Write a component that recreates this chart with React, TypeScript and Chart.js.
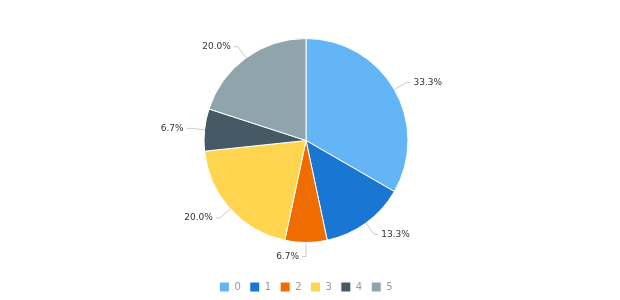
import React, { useEffect, useRef } from "react";
import { Chart, registerables } from "chart.js";

Chart.register(...registerables);

const categories = ["0", "1", "2", "3", "4", "5"];
const values = [5, 2, 1, 3, 1, 3];
const colors = ["#64B5F6", "#1976D2", "#EF6C00", "#FFD54F", "#455A64", "#90A4AE"];

const labelPlugin = {
  id: "pieLabels",
  afterDatasetsDraw(chart: any) {
    const ctx = chart.ctx;
    const meta = chart.getDatasetMeta(0);
    const data = chart.data.datasets[0].data as number[];
    const total = data.reduce((a, b) => a + b, 0);
    ctx.save();
    ctx.font = "9px 'DejaVu Sans'";
    ctx.textBaseline = "middle";
    meta.data.forEach((arc: any, i: number) => {
      const { x, y, startAngle, endAngle, outerRadius } = arc.getProps(
        ["x", "y", "startAngle", "endAngle", "outerRadius"],
        true
      );
      const mid = (startAngle + endAngle) / 2;
      const c = Math.cos(mid);
      const s = Math.sin(mid);
      const x1 = x + outerRadius * c;
      const y1 = y + outerRadius * s;
      const x2 = x + (outerRadius + 14) * c;
      const y2 = y + (outerRadius + 14) * s;
      const right = c > 0.001;
      const x3 = x2 + (right ? 4 : -4);
      ctx.strokeStyle = "#cccccc";
      ctx.lineWidth = 1;
      ctx.beginPath();
      ctx.moveTo(x1, y1);
      ctx.lineTo(x2, y2);
      ctx.lineTo(x3, y2);
      ctx.stroke();
      const txt = ((data[i] / total) * 100).toFixed(1) + "%";
      ctx.fillStyle = "#333333";
      ctx.textAlign = right ? "left" : "right";
      ctx.fillText(txt, x3 + (right ? 3 : -3), y2);
    });
    ctx.restore();
  },
};

export default function App() {
  const ref = useRef<HTMLCanvasElement | null>(null);
  useEffect(() => {
    if (!ref.current) return;
    const chart = new Chart(ref.current, {
      type: "pie",
      data: {
        labels: categories,
        datasets: [
          {
            data: values,
            backgroundColor: colors,
            borderColor: "#ffffff",
            borderWidth: 1,
          },
        ],
      },
      options: {
        animation: false,
        responsive: false,
        maintainAspectRatio: false,
        layout: { padding: { top: 38, left: 0, right: 8, bottom: 2 } },
        plugins: {
          tooltip: { enabled: false },
          legend: {
            position: "bottom",
            title: {
              display: true,
              text: " ",
              font: { size: 1, lineHeight: 1 },
              padding: { top: 29, bottom: 0 },
            },
            labels: {
              boxWidth: 10,
              boxHeight: 10,
              padding: 9,
              color: "#999999",
              font: { size: 10, family: "'DejaVu Sans'" },
            },
          },
        },
      },
      plugins: [labelPlugin],
    });
    return () => chart.destroy();
  }, []);
  return (
    <div style={{ position: "fixed", left: 0, top: 0, width: 620, height: 300, overflow: "hidden", background: "#fff" }}>
      <canvas ref={ref} width={620} height={304} style={{ width: 620, height: 304, display: "block" }} />
    </div>
  );
}
